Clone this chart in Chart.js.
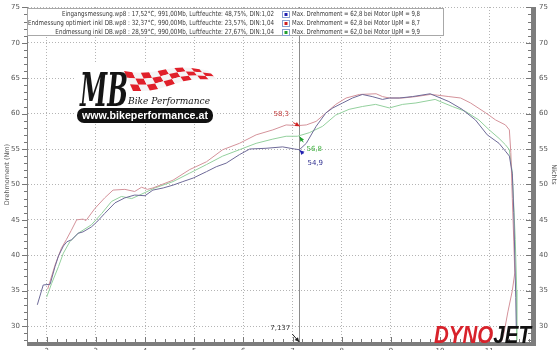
<!DOCTYPE html>
<html>
<head>
<meta charset="utf-8">
<script src="https://cdn.jsdelivr.net/npm/chart.js@4.4.0/dist/chart.umd.min.js"></script>
<style>
  html, body { margin: 0; padding: 0; background: #fff; }
  #wrap { width: 560px; height: 350px; }
</style>
</head>
<body>
<div id="wrap"><canvas id="dynoChart"></canvas></div>
<script>
// run descriptions shown in the box at the top
const runInfo = [
  'Eingangsmessung.wp8 : 17,52°C, 991,00Mb, Luftfeuchte: 48,75%, DIN:1,02',
  'Endmessung optimiert inkl DB.wp8 : 32,37°C, 990,00Mb, Luftfeuchte: 23,57%, DIN:1,04',
  'Endmessung inkl DB.wp8 : 28,59°C, 990,00Mb, Luftfeuchte: 27,67%, DIN:1,04'
];
const maxInfo = [
  'Max. Drehmoment = 62,8 bei Motor UpM = 9,8',
  'Max. Drehmoment = 62,8 bei Motor UpM = 8,7',
  'Max. Drehmoment = 62,0 bei Motor UpM = 9,9'
];

// Eingangsmessung (blue)
const eingangRpm = [1.81,1.93,2.07,2.17,2.24,2.34,2.41,2.51,2.64,2.74,2.91,3.02,3.18,3.39,3.59,3.79,4.0,4.16,4.37,4.57,4.77,4.98,5.25,5.45,5.65,5.92,6.13,6.46,6.80,7.04,7.14,7.28,7.48,7.68,7.82,8.02,8.22,8.42,8.62,8.83,8.97,9.17,9.44,9.8,10.18,10.45,10.72,10.96,11.2,11.33,11.41,11.47,11.5,11.52,11.54,11.55];
const eingangNm = [33.0,35.8,35.9,38.4,39.9,41.3,41.9,42.2,43.1,43.3,44.0,44.7,45.9,47.4,48.1,48.5,48.4,49.2,49.5,49.9,50.4,50.9,51.8,52.5,53.0,54.2,55.0,55.1,55.3,55.0,54.9,55.8,58.2,60.1,60.8,61.5,62.2,62.7,62.4,62.0,62.2,62.2,62.4,62.8,61.7,60.6,59.1,57.0,55.8,54.7,54.0,51.5,46.0,40.0,34.0,30.0];

// Endmessung optimiert inkl DB (red)
const optRpm = [2.02,2.17,2.3,2.4,2.5,2.61,2.74,2.8,2.98,3.18,3.35,3.59,3.79,3.93,4.05,4.16,4.57,4.91,5.25,5.58,5.92,6.26,6.6,6.87,7.1,7.28,7.48,7.68,7.88,8.09,8.36,8.7,8.83,8.97,9.24,9.51,9.8,9.95,10.18,10.42,10.62,10.93,11.13,11.33,11.41,11.44,11.47,11.5,11.52,11.47,11.38,11.3,11.25];
const optNm = [35.2,38.6,41.0,42.2,43.5,45.0,45.1,44.9,46.6,48.1,49.2,49.3,49.0,49.6,49.3,49.5,50.6,52.1,53.2,54.9,55.8,57.0,57.7,58.4,58.3,58.4,58.9,60.1,61.3,62.2,62.7,62.8,62.4,62.2,62.2,62.4,62.7,62.6,62.4,62.2,61.5,60.1,59.1,58.4,57.7,54.5,48.0,42.0,37.5,35.0,32.0,29.0,27.8];

// Endmessung inkl DB (green)
const dbRpm = [2.0,2.1,2.24,2.34,2.47,2.64,2.91,3.12,3.32,3.52,3.73,3.89,4.2,4.57,4.91,5.25,5.58,5.92,6.26,6.6,6.87,7.1,7.34,7.61,7.88,8.15,8.42,8.69,8.97,9.24,9.51,9.9,10.25,10.52,10.79,11.0,11.2,11.33,11.41,11.47,11.53,11.56,11.56];
const dbNm = [34.1,36.0,38.4,40.3,41.9,43.1,44.3,45.9,47.6,48.3,48.0,48.5,49.5,50.4,51.6,52.8,54.0,54.9,55.8,56.4,56.8,56.8,57.3,58.2,59.8,60.6,61.0,61.3,60.8,61.3,61.5,62.0,61.0,60.3,59.1,57.7,56.5,55.6,54.9,51.6,42.2,35.0,28.0];

// cursor readout
const cursorRpm = 7.137;
const cursorNm = [54.9, 58.3, 56.8];
const cursorLabels = ['54,9', '58,3', '56,8'];

const xTickValues = [2, 3, 4, 5, 6, 7, 8, 9, 10, 11];
const yTickValues = [30, 35, 40, 45, 50, 55, 60, 65, 70, 75];

const lineColors = ['#6e6a98', '#d4929a', '#93d09d'];
const markColors = ['#2020b0', '#d02020', '#20a030'];
const labelColors = ['#303090', '#c03838', '#40b040'];

function toPoints(xs, ys) {
  return xs.map((v, i) => ({ x: v, y: ys[i] }));
}

// draws text squeezed horizontally if wider than maxW
function fillFit(ctx, text, x, y, maxW, align) {
  const w = ctx.measureText(text).width;
  const s = w > maxW ? maxW / w : 1;
  ctx.save();
  ctx.translate(x, y);
  ctx.scale(s, 1);
  ctx.textAlign = align || 'left';
  ctx.fillText(text, 0, 0);
  ctx.restore();
  return w * s;
}

function drawArrow(ctx, x1, y1, x2, y2, color) {
  const ang = Math.atan2(y2 - y1, x2 - x1);
  ctx.save();
  ctx.strokeStyle = color;
  ctx.fillStyle = color;
  ctx.lineWidth = 1;
  ctx.beginPath();
  ctx.moveTo(x1, y1);
  ctx.lineTo(x2, y2);
  ctx.stroke();
  ctx.beginPath();
  ctx.moveTo(x2, y2);
  ctx.lineTo(x2 - 5 * Math.cos(ang - 0.45), y2 - 5 * Math.sin(ang - 0.45));
  ctx.lineTo(x2 - 5 * Math.cos(ang + 0.45), y2 - 5 * Math.sin(ang + 0.45));
  ctx.closePath();
  ctx.fill();
  ctx.restore();
}

function drawMbLogo(ctx) {
  ctx.save();
  ctx.fillStyle = '#fff';
  ctx.fillRect(76, 64, 139, 60);

  // checkered flag
  const cols = 10, rows = 3;
  const edge = c => {
    const x = 124 + c * 8.4;
    const top = 71 + 2.2 * Math.sin(c * 0.7) - c * 0.2;
    const h = 20 - c * 1.1;
    return { x, top, h };
  };
  for (let c = 0; c < cols; c++) {
    const e0 = edge(c), e1 = edge(c + 1);
    for (let r = 0; r < rows; r++) {
      ctx.fillStyle = (r + c) % 2 === 0 ? '#e0202a' : '#f4f4f4';
      const sk = 3;
      ctx.beginPath();
      ctx.moveTo(e0.x + r * sk, e0.top + e0.h * r / rows);
      ctx.lineTo(e1.x + r * sk, e1.top + e1.h * r / rows);
      ctx.lineTo(e1.x + (r + 1) * sk, e1.top + e1.h * (r + 1) / rows);
      ctx.lineTo(e0.x + (r + 1) * sk, e0.top + e0.h * (r + 1) / rows);
      ctx.closePath();
      ctx.fill();
    }
  }

  ctx.fillStyle = '#151515';
  ctx.font = 'italic bold 46px "DejaVu Serif"';
  ctx.textBaseline = 'alphabetic';
  fillFit(ctx, 'MB', 80, 106, 48);

  ctx.font = 'italic 10px "DejaVu Serif"';
  fillFit(ctx, 'Bike Performance', 128, 104, 82);

  ctx.fillStyle = '#111';
  ctx.beginPath();
  ctx.roundRect(77, 108, 136, 15, 7);
  ctx.fill();
  ctx.fillStyle = '#fff';
  ctx.font = 'bold 11px "Liberation Sans"';
  ctx.textBaseline = 'middle';
  fillFit(ctx, 'www.bikeperformance.at', 145, 116, 126, 'center');
  ctx.restore();
}

const decor = {
  id: 'decor',
  beforeDatasetsDraw(chart) {
    const { ctx, chartArea: a, scales: { x } } = chart;
    drawMbLogo(ctx);
    const cx = Math.round(x.getPixelForValue(cursorRpm)) + 0.5;
    ctx.save();
    ctx.strokeStyle = '#8c8c8c';
    ctx.lineWidth = 1;
    ctx.beginPath();
    ctx.moveTo(cx, a.top);
    ctx.lineTo(cx, a.bottom);
    ctx.stroke();
    ctx.restore();
  },
  afterDraw(chart) {
    const { ctx, chartArea: a, scales: { x, y } } = chart;
    ctx.save();

    // thick gray axis bars
    ctx.fillStyle = '#7d7d7d';
    ctx.fillRect(a.left, a.bottom, a.right + 5 - a.left, 4);
    ctx.fillRect(a.right, a.top, 5, a.bottom + 4 - a.top);

    // tick marks
    ctx.strokeStyle = '#777';
    ctx.lineWidth = 1;
    ctx.beginPath();
    for (let v = 28; v <= 75; v++) {
      const py = Math.round(y.getPixelForValue(v)) + 0.5;
      const len = v % 5 === 0 ? 5 : 3;
      ctx.moveTo(a.left - len, py);
      ctx.lineTo(a.left, py);
      ctx.moveTo(a.right - len, py);
      ctx.lineTo(a.right, py);
    }
    for (let k = 9; k <= 59; k++) {
      const px = Math.round(x.getPixelForValue(k / 5)) + 0.5;
      const len = k % 5 === 0 ? 5 : 3;
      ctx.moveTo(px, a.bottom - len);
      ctx.lineTo(px, a.bottom);
    }
    ctx.stroke();

    // cursor readouts
    const cx = x.getPixelForValue(cursorRpm);
    const offsets = [
      { tail: [4, 4], label: [16, 13] },
      { tail: [-6, -3], label: [-18, -11] },
      { tail: [4, 6], label: [15, 13] }
    ];
    ctx.font = '7px "DejaVu Sans"';
    ctx.textBaseline = 'middle';
    ctx.textAlign = 'center';
    cursorNm.forEach((v, i) => {
      const cy = y.getPixelForValue(v);
      const o = offsets[i];
      drawArrow(ctx, cx + o.tail[0], cy + o.tail[1], cx + 0.5, cy + 0.5, markColors[i]);
      ctx.fillStyle = labelColors[i];
      ctx.fillText(cursorLabels[i], cx + o.label[0], cy + o.label[1]);
    });
    drawArrow(ctx, cx - 7, a.bottom - 8, cx, a.bottom, '#222');
    ctx.fillStyle = '#333';
    ctx.fillText(String(cursorRpm).replace('.', ','), cx - 19, a.bottom - 14);

    // run info box
    ctx.fillStyle = '#fff';
    ctx.fillRect(a.left + 0.5, 8.5, 443 - a.left, 27);
    ctx.strokeStyle = '#a8a8a8';
    ctx.strokeRect(a.left + 0.5, 8.5, 443 - a.left, 27);
    ctx.font = '7px "DejaVu Sans"';
    ctx.textAlign = 'left';
    const ref = ctx.measureText(runInfo[1]).width;
    runInfo.forEach((t, i) => {
      const ly = 14.5 + i * 9;
      const w = ctx.measureText(t).width * 246 / ref;
      ctx.fillStyle = '#383838';
      fillFit(ctx, t, 274 - w, ly, w);
      ctx.fillStyle = '#fff';
      ctx.fillRect(282, ly - 3.5, 8, 7);
      ctx.strokeStyle = '#8aa0d0';
      ctx.strokeRect(282.5, ly - 3, 7, 6);
      ctx.fillStyle = markColors[i];
      ctx.fillRect(284.5, ly - 1.5, 3, 3);
      ctx.fillStyle = '#383838';
      fillFit(ctx, maxInfo[i], 292, ly, 128);
    });

    // DYNOJET logo
    ctx.textBaseline = 'alphabetic';
    ctx.font = 'italic bold 23px "Liberation Sans"';
    const wD = ctx.measureText('DYNO').width, wJ = ctx.measureText('JET').width;
    const s = 97 / (wD + wJ);
    ctx.translate(434, 343);
    ctx.scale(s, 1);
    ctx.fillStyle = '#d8222b';
    ctx.fillText('DYNO', 0, 0);
    ctx.fillStyle = '#111';
    ctx.fillText('JET', wD, 0);
    ctx.restore();
  }
};

const noPad = s => { s.paddingTop = 0; s.paddingBottom = 0; s.paddingLeft = 0; s.paddingRight = 0; };

const chart = new Chart(document.getElementById('dynoChart'), {
  type: 'line',
  data: {
    datasets: [
      { label: 'Eingangsmessung', data: toPoints(eingangRpm, eingangNm), borderColor: lineColors[0] },
      { label: 'Endmessung optimiert inkl DB', data: toPoints(optRpm, optNm), borderColor: lineColors[1] },
      { label: 'Endmessung inkl DB', data: toPoints(dbRpm, dbNm), borderColor: lineColors[2] }
    ]
  },
  options: {
    responsive: true,
    maintainAspectRatio: false,
    animation: false,
    layout: { padding: { top: 7, left: 0, right: 0, bottom: 0 } },
    elements: {
      line: { borderWidth: 1, tension: 0 },
      point: { radius: 0 }
    },
    plugins: {
      legend: { display: false },
      tooltip: { enabled: false }
    },
    scales: {
      x: {
        type: 'linear',
        min: 1.6,
        max: 11.85,
        afterBuildTicks: s => { s.ticks = xTickValues.map(v => ({ value: v })); },
        afterFit: s => { s.height = 8; noPad(s); },
        ticks: { color: '#555', font: { size: 7, family: 'DejaVu Sans' }, padding: 5, maxRotation: 0, autoSkip: false },
        grid: { color: '#b4b4b4', lineWidth: 1, drawTicks: false },
        border: { display: false, dash: [1, 2] }
      },
      y: {
        min: 27.75,
        max: 75.05,
        afterBuildTicks: s => { s.ticks = yTickValues.map(v => ({ value: v })); },
        afterFit: s => { s.width = 27; noPad(s); },
        ticks: { color: '#555', font: { size: 7, family: 'DejaVu Sans' }, padding: 7 },
        grid: { color: '#b4b4b4', lineWidth: 1, drawTicks: false },
        border: { display: true, color: '#808080', dash: [1, 2] },
        title: { display: true, text: 'Drehmoment (Nm)', color: '#555', font: { size: 6.5, family: 'DejaVu Sans' }, padding: { top: 3, bottom: 0 } }
      },
      y2: {
        position: 'right',
        min: 27.75,
        max: 75.05,
        afterBuildTicks: s => { s.ticks = yTickValues.map(v => ({ value: v })); },
        afterFit: s => { s.width = 29; noPad(s); },
        ticks: { color: '#555', font: { size: 7, family: 'DejaVu Sans' }, padding: 8 },
        grid: { drawOnChartArea: false, drawTicks: false },
        border: { display: false },
        title: { display: true, text: 'Nichts', color: '#555', font: { size: 6.5, family: 'DejaVu Sans' }, padding: { top: 2, bottom: 0 } }
      }
    }
  },
  plugins: [decor]
});
</script>
</body>
</html>
